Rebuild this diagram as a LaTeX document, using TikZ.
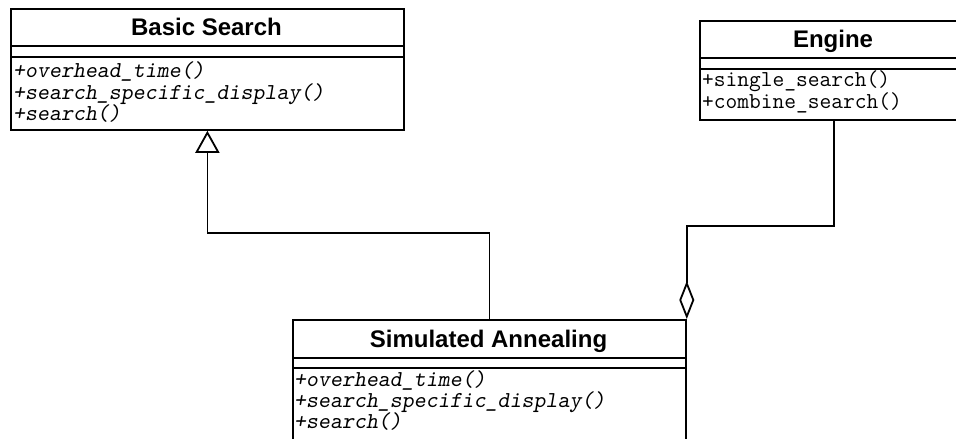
\documentclass[tikz,border=0pt]{standalone}
\usepackage{fontspec}
\setmainfont{Liberation Sans}
\usetikzlibrary{arrows.meta}
\begin{document}
\begin{tikzpicture}[x=1pt, y=-1pt,
  classbox/.style={draw, line width=1.8pt, rectangle, inner sep=0pt, anchor=north west},
  sepline/.style={line width=1.8pt},
  classname/.style={font=\fontsize{24}{28}\selectfont\bfseries, anchor=base, inner sep=0pt},
  absop/.style={font=\fontsize{22.8}{24}\selectfont\ttfamily\slshape, anchor=base west, inner sep=0pt},
  op/.style={font=\fontsize{22.8}{24}\selectfont\ttfamily, anchor=base west, inner sep=0pt},
  conn/.style={line width=1.8pt},
  inherit/.style={conn, -{Triangle[open, length=22pt, width=24pt]}},
  aggregate/.style={conn, {Diamond[open, length=38pt, width=15pt]}-}
]
\useasboundingbox (0,0) rectangle (956,439);
\clip (0,0) rectangle (956,439);

% Basic Search
\node[classbox, minimum width=393pt, minimum height=121pt] (bs) at (10,8) {};
\draw[sepline] (bs.north west) ++(0,38) -- ++(393,0);
\draw[sepline] (bs.north west) ++(0,49) -- ++(393,0);
\node[classname] (bsname) at (206.5,35.5) {Basic Search};
\node[absop] (bsop1) at (13,77) {+overhead\_time()};
\node[absop] (bsop2) at (13,99) {+search\_specific\_display()};
\node[absop] (bsop3) at (13,120) {+search()};

% Engine (runs past the right edge)
\node[classbox, minimum width=268pt, minimum height=99pt] (eng) at (699,20) {};
\draw[sepline] (eng.north west) ++(0,38) -- ++(268,0);
\draw[sepline] (eng.north west) ++(0,49) -- ++(268,0);
\node[classname] (engname) at (833,47.5) {Engine};
\node[op] (engop1) at (702,86.5) {+single\_search()};
\node[op] (engop2) at (702,108) {+combine\_search()};

% Simulated Annealing (runs past the bottom edge)
\node[classbox, minimum width=393pt, minimum height=140pt] (sa) at (292,319) {};
\draw[sepline] (sa.north west) ++(0,39) -- ++(393,0);
\draw[sepline] (sa.north west) ++(0,49) -- ++(393,0);
\node[classname] (saname) at (488.5,347) {Simulated Annealing};
\node[absop] (saop1) at (294,386) {+overhead\_time()};
\node[absop] (saop2) at (294,407) {+search\_specific\_display()};
\node[absop] (saop3) at (294,428) {+search()};

% Generalisation and aggregation
\draw[inherit] (sa.north) -- ++(0,-86) -| (bs.south);
\draw[aggregate] (sa.north east) -- ++(0,-93) -| (eng.south);
\end{tikzpicture}
\end{document}
